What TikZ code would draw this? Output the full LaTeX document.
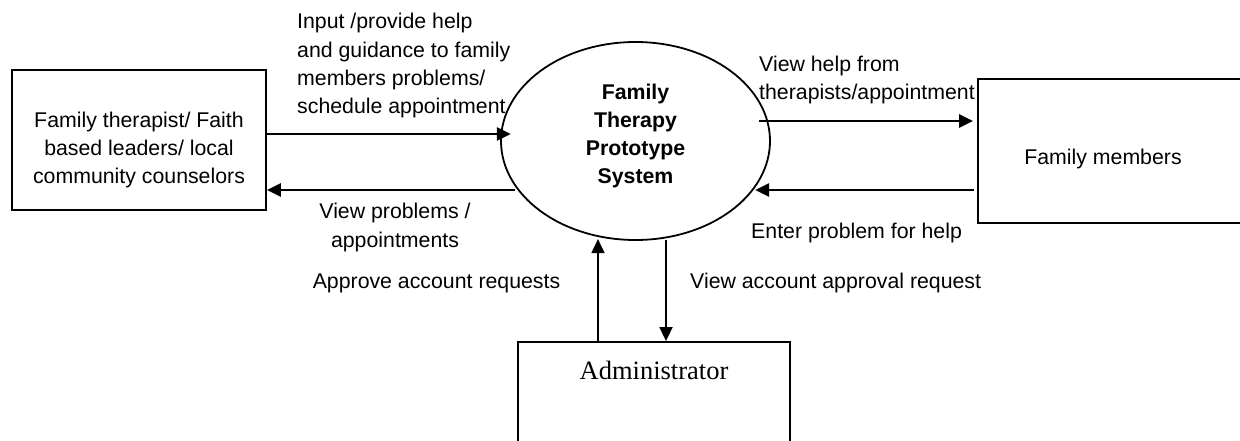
\documentclass[tikz,border=0pt]{standalone}
\usepackage{fontspec}
\setmainfont{Liberation Sans}
\newfontfamily\adminfont{Liberation Serif}
\usetikzlibrary{arrows.meta,shapes.geometric}
\begin{document}
\begin{tikzpicture}[x=1pt,y=-1pt,
  txt/.style={font=\fontsize{21.3}{28.3}\selectfont, inner sep=0pt},
  entity/.style={draw, line width=1.8pt, rectangle, inner sep=0pt},
  process/.style={draw, line width=1.8pt, ellipse, inner sep=0pt},
  tip/.tip={Triangle[length=14pt,width=13pt]},
  flow/.style={line width=2.6pt, -tip},
  revflow/.style={line width=2.6pt, tip-},
  vflow/.style={line width=1.8pt, -tip},
  vrevflow/.style={line width=1.8pt, tip-}
]
\fill[white] (0,0) rectangle (1240,441);
\useasboundingbox (0,0) rectangle (1240,441);

% external entities and the central process
\node[entity, minimum width=254pt, minimum height=140pt,
  label={[txt, align=center, yshift=-10pt]center:{Family therapist/ Faith\\based leaders/ local\\community counselors}}]
  (ther) at (139,140) {};
\node[process, minimum width=269pt, minimum height=198pt,
  label={[txt, align=center, font=\fontsize{21.3}{28.3}\selectfont\bfseries, yshift=5pt]center:{Family\\Therapy\\Prototype\\System}}]
  (sys) at (635.5,141) {};
\node[entity, minimum width=282pt, minimum height=144pt,
  label={[txt, xshift=-16pt, yshift=-8pt]center:{Family members}}]
  (fam) at (1119,151) {};
\node[entity, minimum width=272pt, minimum height=118pt,
  label={[inner sep=0pt, font=\adminfont\fontsize{26.5}{30}\selectfont, yshift=31pt]center:{Administrator}}]
  (admin) at (654,401) {};

% data flows
\draw[flow] ([yshift=6pt]ther.east) -- ++(244pt,0pt);
\draw[revflow] ([yshift=-50pt]ther.east) -- ++(248pt,0pt);
\draw[flow] ([xshift=-218pt,yshift=30pt]fam.west) -- ++(214pt,0pt);
\draw[flow] ([xshift=-3pt,yshift=-39pt]fam.west) -- ++(-219pt,0pt);
\draw[vflow] ([xshift=-56pt]admin.north) -- ++(0pt,102pt);
\draw[vrevflow] ([xshift=12pt]admin.north) -- ++(0pt,101pt);

% flow labels
\node[txt, align=left, anchor=west] (lin) at (297,65.75)
  {Input /provide help\\and guidance to family\\members problems/\\schedule appointment};
\node[txt, align=center] (lout) at (395,227.5) {View problems /\\appointments};
\node[txt] (lapprove) at (436.5,283) {Approve account requests};
\node[txt, align=left, anchor=west] (lview) at (759,80) {View help from\\therapists/appointment};
\node[txt, anchor=west] (lenter) at (751,233) {Enter problem for help};
\node[txt, anchor=west] (lreq) at (690,283) {View account approval request};
\end{tikzpicture}
\end{document}
